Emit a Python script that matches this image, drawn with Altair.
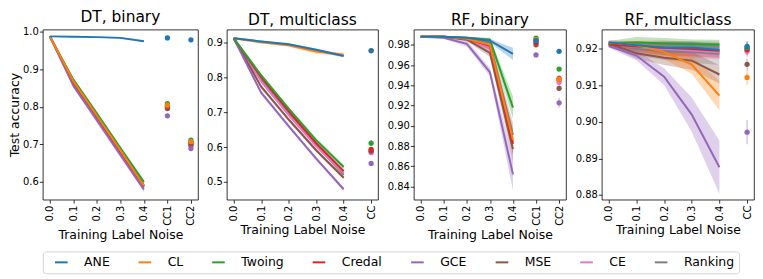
import altair as alt
import pandas as pd

NOISE = ["0.0", "0.1", "0.2", "0.3", "0.4"]
METHODS = ["ANE", "CL", "Twoing", "Credal", "GCE", "MSE", "CE", "Ranking"]
COLORS = ["#1f77b4", "#ff7f0e", "#2ca02c", "#d62728", "#9467bd", "#8c564b", "#e377c2", "#7f7f7f"]

# ---------- DT, binary ----------
DTB_CC = ["CC1", "CC2"]
DTB_MEAN = {
    "ANE": [0.987, 0.986, 0.985, 0.983, 0.974],
    "CL": [0.987, 0.868, 0.776, 0.684, 0.590],
    "Twoing": [0.987, 0.872, 0.782, 0.690, 0.600],
    "Credal": [0.987, 0.866, 0.775, 0.682, 0.590],
    "GCE": [0.987, 0.856, 0.764, 0.672, 0.580],
    "MSE": [0.987, 0.864, 0.772, 0.680, 0.587],
    "CE": [0.987, 0.863, 0.771, 0.679, 0.586],
    "Ranking": [0.987, 0.867, 0.776, 0.684, 0.591],
}
DTB_HALF = {
    "ANE": [0.001, 0.001, 0.001, 0.002, 0.002],
    "CL": [0.001, 0.005, 0.006, 0.006, 0.006],
    "Twoing": [0.001, 0.005, 0.006, 0.006, 0.006],
    "Credal": [0.001, 0.005, 0.006, 0.006, 0.006],
    "GCE": [0.001, 0.006, 0.007, 0.007, 0.007],
    "MSE": [0.001, 0.005, 0.006, 0.006, 0.006],
    "CE": [0.001, 0.005, 0.006, 0.006, 0.006],
    "Ranking": [0.001, 0.005, 0.006, 0.006, 0.006],
}
DTB_CC_MEAN = {
    "ANE": [0.983, 0.978], "CL": [0.804, 0.707], "Twoing": [0.808, 0.711],
    "Credal": [0.802, 0.705], "GCE": [0.776, 0.689], "MSE": [0.795, 0.697],
    "CE": [0.800, 0.703], "Ranking": [0.797, 0.700],
}
DTB_CC_ERR = {
    "ANE": [0.002, 0.002], "CL": [0.004, 0.004], "Twoing": [0.004, 0.004],
    "Credal": [0.004, 0.004], "GCE": [0.006, 0.007], "MSE": [0.004, 0.004],
    "CE": [0.004, 0.004], "Ranking": [0.004, 0.004],
}

# ---------- DT, multiclass ----------
DTM_CC = ["CC"]
DTM_MEAN = {
    "ANE": [0.912, 0.903, 0.895, 0.879, 0.861],
    "CL": [0.912, 0.901, 0.892, 0.874, 0.865],
    "Twoing": [0.912, 0.806, 0.710, 0.620, 0.543],
    "Credal": [0.912, 0.801, 0.703, 0.611, 0.531],
    "GCE": [0.912, 0.756, 0.660, 0.567, 0.479],
    "MSE": [0.912, 0.773, 0.679, 0.591, 0.512],
    "CE": [0.912, 0.788, 0.692, 0.603, 0.525],
    "Ranking": [0.912, 0.795, 0.697, 0.607, 0.520],
}
DTM_HALF = {
    "ANE": [0.003, 0.003, 0.003, 0.004, 0.004],
    "CL": [0.003, 0.004, 0.004, 0.006, 0.005],
    "Twoing": [0.003, 0.005, 0.005, 0.005, 0.006],
    "Credal": [0.003, 0.005, 0.005, 0.005, 0.005],
    "GCE": [0.003, 0.005, 0.005, 0.005, 0.005],
    "MSE": [0.003, 0.005, 0.005, 0.005, 0.005],
    "CE": [0.003, 0.005, 0.005, 0.005, 0.005],
    "Ranking": [0.003, 0.005, 0.005, 0.005, 0.005],
}
DTM_CC_MEAN = {
    "ANE": [0.877], "CL": [0.876], "Twoing": [0.611], "Credal": [0.593],
    "GCE": [0.553], "MSE": [0.588], "CE": [0.584], "Ranking": [0.589],
}
DTM_CC_ERR = {
    "ANE": [0.003], "CL": [0.003], "Twoing": [0.009], "Credal": [0.006],
    "GCE": [0.005], "MSE": [0.005], "CE": [0.006], "Ranking": [0.005],
}

# ---------- RF, binary ----------
RFB_CC = ["CC1", "CC2"]
RFB_MEAN = {
    "ANE": [0.988, 0.988, 0.987, 0.984, 0.971],
    "CL": [0.988, 0.988, 0.986, 0.980, 0.886],
    "Twoing": [0.988, 0.988, 0.987, 0.985, 0.918],
    "Credal": [0.988, 0.988, 0.986, 0.979, 0.882],
    "GCE": [0.988, 0.987, 0.981, 0.953, 0.852],
    "MSE": [0.988, 0.988, 0.985, 0.972, 0.877],
    "CE": [0.988, 0.988, 0.986, 0.977, 0.884],
    "Ranking": [0.988, 0.988, 0.986, 0.982, 0.891],
}
RFB_HALF = {
    "ANE": [0.0005, 0.0005, 0.001, 0.002, 0.006],
    "CL": [0.0005, 0.0005, 0.0015, 0.004, 0.012],
    "Twoing": [0.0005, 0.0005, 0.001, 0.002, 0.011],
    "Credal": [0.0005, 0.0005, 0.0015, 0.004, 0.012],
    "GCE": [0.0005, 0.001, 0.003, 0.004, 0.016],
    "MSE": [0.0005, 0.0005, 0.0015, 0.004, 0.012],
    "CE": [0.0005, 0.0005, 0.0015, 0.004, 0.012],
    "Ranking": [0.0005, 0.0005, 0.0015, 0.004, 0.012],
}
RFB_CC_MEAN = {
    "ANE": [0.984, 0.9735], "CL": [0.985, 0.946], "Twoing": [0.9865, 0.956],
    "Credal": [0.982, 0.9467], "GCE": [0.970, 0.9227], "MSE": [0.980, 0.937],
    "CE": [0.983, 0.943], "Ranking": [0.984, 0.945],
}
RFB_CC_ERR = {
    "ANE": [0.001, 0.002], "CL": [0.001, 0.003], "Twoing": [0.001, 0.002],
    "Credal": [0.001, 0.003], "GCE": [0.001, 0.005], "MSE": [0.001, 0.003],
    "CE": [0.001, 0.003], "Ranking": [0.001, 0.003],
}

# ---------- RF, multiclass ----------
RFM_CC = ["CC"]
RFM_MEAN = {
    "ANE": [0.9218, 0.9210, 0.9203, 0.9204, 0.9197],
    "CL": [0.9218, 0.9210, 0.9192, 0.9157, 0.9072],
    "Twoing": [0.9215, 0.9218, 0.9215, 0.9213, 0.9212],
    "Credal": [0.9212, 0.9207, 0.9203, 0.9200, 0.9195],
    "GCE": [0.9208, 0.9182, 0.9124, 0.9020, 0.8876],
    "MSE": [0.9215, 0.9188, 0.9176, 0.9168, 0.9130],
    "CE": [0.9212, 0.9205, 0.9200, 0.9196, 0.9191],
    "Ranking": [0.9214, 0.9200, 0.9195, 0.9192, 0.9188],
}
RFM_HALF = {
    "ANE": [0.0005, 0.0010, 0.0015, 0.0015, 0.0015],
    "CL": [0.0005, 0.0012, 0.0020, 0.0025, 0.0040],
    "Twoing": [0.0007, 0.0015, 0.0015, 0.0013, 0.0013],
    "Credal": [0.0006, 0.0015, 0.0020, 0.0020, 0.0020],
    "GCE": [0.0005, 0.0013, 0.0023, 0.0047, 0.0073],
    "MSE": [0.0006, 0.0015, 0.0020, 0.0025, 0.0025],
    "CE": [0.0006, 0.0015, 0.0018, 0.0020, 0.0020],
    "Ranking": [0.0006, 0.0018, 0.0025, 0.0030, 0.0032],
}
RFM_CC_MEAN = {
    "ANE": [0.9207], "CL": [0.9122], "Twoing": [0.9204], "Credal": [0.9198],
    "GCE": [0.8972], "MSE": [0.9158], "CE": [0.9193], "Ranking": [0.9200],
}
RFM_CC_ERR = {
    "ANE": [0.0015], "CL": [0.0020], "Twoing": [0.0015], "Credal": [0.0015],
    "GCE": [0.0033], "MSE": [0.0015], "CE": [0.0015], "Ranking": [0.0015],
}

# drawing order: ANE ends up on top
DRAW_ORDER = list(reversed(METHODS))


def build_frames(mean, half, cc_labels, cc_mean, cc_err):
    curve, pts = [], []
    for m in DRAW_ORDER:
        for i, nx in enumerate(NOISE):
            v, h = mean[m][i], half[m][i]
            curve.append({"method": m, "x": nx, "mean": v, "lo": v - h, "hi": v + h})
        for j, c in enumerate(cc_labels):
            v, h = cc_mean[m][j], cc_err[m][j]
            pts.append({"method": m, "x": c, "mean": v, "lo": v - h, "hi": v + h})
    return pd.DataFrame(curve), pd.DataFrame(pts)


LEGEND = alt.Legend(
    title=None, orient="bottom", direction="horizontal", offset=10,
    columns=8, symbolType="M0.23,0H2.54", symbolSize=121, symbolStrokeWidth=2,
    symbolOpacity=1, labelFontSize=12.5, labelOffset=24, columnPadding=21,
    padding=4.5, strokeColor="#d4d4d4", cornerRadius=3, labelColor="black",
)


def panel(title, mean, half, cc_labels, cc_mean, cc_err, domain, ticks, fmt, width, ytitle):
    curve, pts = build_frames(mean, half, cc_labels, cc_mean, cc_err)
    xdom = NOISE + cc_labels
    n = len(xdom)
    x = alt.X("x:N", scale=alt.Scale(type="point", domain=xdom, padding=0.05 * (n - 1)),
              axis=alt.Axis(title="Training Label Noise", labelAngle=270))
    yscale = alt.Scale(domain=domain, nice=False, zero=False)
    yaxis = alt.Axis(values=ticks, format=fmt, title=ytitle)
    color = alt.Color("method:N", scale=alt.Scale(domain=METHODS, range=COLORS), legend=LEGEND)

    band = alt.Chart(curve).mark_area(opacity=0.3).encode(
        x=x, y=alt.Y("lo:Q", scale=yscale, axis=yaxis), y2="hi:Q", color=color)
    line = alt.Chart(curve).mark_line(strokeWidth=2).encode(
        x=x, y=alt.Y("mean:Q", scale=yscale, axis=yaxis), color=color)
    err = alt.Chart(pts).mark_rule(strokeWidth=1.2, opacity=0.45).encode(
        x=x, y=alt.Y("lo:Q", scale=yscale, axis=yaxis), y2="hi:Q", color=color)
    dot = alt.Chart(pts).mark_circle(size=28, opacity=1).encode(
        x=x, y=alt.Y("mean:Q", scale=yscale, axis=yaxis), color=color)
    return alt.layer(band, line, err, dot).properties(
        width=width, height=171, title=alt.Title(title))


p1 = panel("DT, binary", DTB_MEAN, DTB_HALF, DTB_CC, DTB_CC_MEAN, DTB_CC_ERR,
           [0.553, 1.005], [0.6, 0.7, 0.8, 0.9, 1.0], ".1f", 156, "Test accuracy")
p2 = panel("DT, multiclass", DTM_MEAN, DTM_HALF, DTM_CC, DTM_CC_MEAN, DTM_CC_ERR,
           [0.449, 0.937], [0.5, 0.6, 0.7, 0.8, 0.9], ".1f", 152, None)
p3 = panel("RF, binary", RFB_MEAN, RFB_HALF, RFB_CC, RFB_CC_MEAN, RFB_CC_ERR,
           [0.827, 0.995], [0.84, 0.86, 0.88, 0.90, 0.92, 0.94, 0.96, 0.98], ".2f", 153, None)
p4 = panel("RF, multiclass", RFM_MEAN, RFM_HALF, RFM_CC, RFM_CC_MEAN, RFM_CC_ERR,
           [0.8787, 0.9253], [0.88, 0.89, 0.90, 0.91, 0.92], ".2f", 153, None)

chart = alt.hconcat(p1, p2, p3, p4, spacing=7).resolve_scale(
    x="independent", y="independent", color="shared"
).properties(
    padding={"left": 0, "top": 0, "right": 0, "bottom": 0}
).configure(
    font="DejaVu Sans"
).configure_view(
    stroke="black", strokeWidth=0.8
).configure_axis(
    grid=False, domain=False, tickColor="black", tickSize=3.5, tickWidth=0.8,
    labelFontSize=10, labelColor="black", titleFontSize=12.5,
    titleFontWeight="normal", titleColor="black", labelPadding=2
).configure_axisY(
    titlePadding=1, labelPadding=1
).configure_axisX(
    titlePadding=3
).configure_title(
    fontSize=15.5, fontWeight="normal", offset=1, color="black"
)

chart.save("out.html", embed_options={"renderer": "svg", "actions": False})
